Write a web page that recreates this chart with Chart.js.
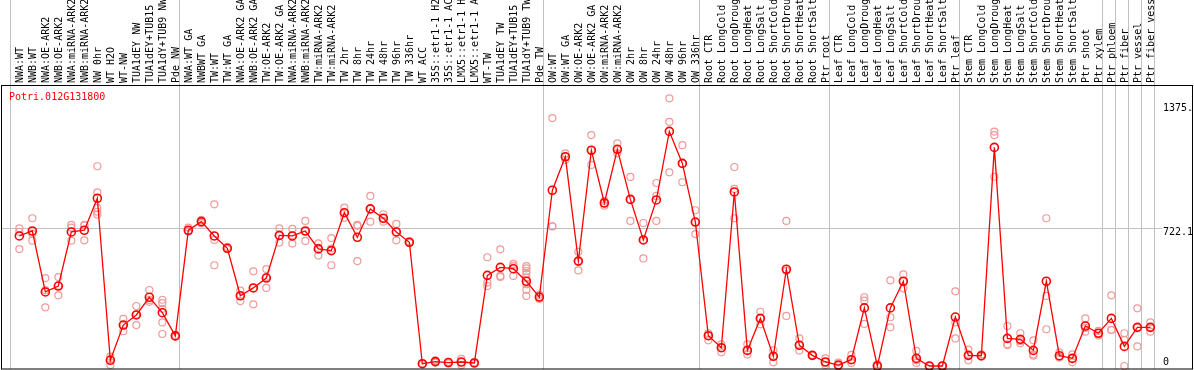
<!DOCTYPE html>
<html lang="en">

<head>
    <meta charset="UTF-8">
    <title>Potri.012G131800 expression</title>
    <script src="https://cdn.jsdelivr.net/npm/chart.js"></script>
    <style>
        body {
            margin: 0;
            background: #fff;
        }

        #chart-container {
            width: 1194px;
            height: 370px;
        }
    </style>
</head>

<body>
    <div id="chart-container">
        <canvas id="exprChart" width="1194" height="370"></canvas>
    </div>

    <script>
        const geneName = 'Potri.012G131800';

        const sampleLabels = [
            'NWA:WT', 'NWB:WT', 'NWA:OE-ARK2', 'NWB:OE-ARK2', 'NWA:miRNA-ARK2', 'NWB:miRNA-ARK2',
            'NW 0hr', 'WT H2O', 'WT-NW', 'TUA1dEY NW', 'TUA1dEY+TUB15', 'TUA1dY+TUB9 NW', 'Pde NW',
            'NWA:WT GA', 'NWBWT GA', 'TW:WT', 'TW:WT GA', 'NWA:OE-ARK2 GA', 'NWB:OE-ARK2 GA',
            'TW:OE-ARK2', 'TW:OE-ARK2 GA', 'NWA:miRNA-ARK2', 'NWB:miRNA-ARK2', 'TW:miRNA-ARK2',
            'TW:miRNA-ARK2', 'TW 2hr', 'TW 8hr', 'TW 24hr', 'TW 48hr', 'TW 96hr', 'TW 336hr',
            'WT ACC', '35S::etr1-1 H2', '35S::etr1-1 AC', 'LMX5::etr1-1 H', 'LMX5::etr1-1 A',
            'WT-TW', 'TUA1dEY TW', 'TUA1dEY+TUB15', 'TUA1dY+TUB9 TW', 'Pde TW',
            'OW:WT', 'OW:WT GA', 'OW:OE-ARK2', 'OW:OE-ARK2 GA', 'OW:miRNA-ARK2', 'OW:miRNA-ARK2',
            'OW 2hr', 'OW 8hr', 'OW 24hr', 'OW 48hr', 'OW 96hr', 'OW 336hr',
            'Root CTR', 'Root LongCold', 'Root LongDroug', 'Root LongHeat', 'Root LongSalt',
            'Root ShortCold', 'Root ShortDrou', 'Root ShortHeat', 'Root ShortSalt', 'Ptr root',
            'Leaf CTR', 'Leaf LongCold', 'Leaf LongDroug', 'Leaf LongHeat', 'Leaf LongSalt',
            'Leaf ShortCold', 'Leaf ShortDrou', 'Leaf ShortHeat', 'Leaf ShortSalt', 'Ptr leaf',
            'Stem CTR', 'Stem LongCold', 'Stem LongDroug', 'Stem LongHeat', 'Stem LongSalt',
            'Stem ShortCold', 'Stem ShortDrou', 'Stem ShortHeat', 'Stem ShortSalt', 'Ptr shoot',
            'Ptr xylem', 'Ptr phloem', 'Ptr fiber', 'Ptr vessel', 'Ptr fiber vess'
        ];

        // mean expression per sample (red line)
        const meanValues = [
            683, 709, 389, 420, 704, 713, 881, 30, 215, 268, 361, 280, 158,
            713, 758, 683, 618, 369, 410, 462, 686, 683, 709, 615, 606, 805, 676, 825, 776, 704, 650,
            12, 23, 18, 21, 16, 476, 518, 511, 445, 362,
            923, 1099, 551, 1133, 856, 1138, 875, 662, 872, 1232, 1064, 756,
            159, 96, 914, 82, 250, 51, 508, 109, 56, 21,
            5, 33, 305, 0, 305, 445, 40, 0, 0, 257,
            56, 54, 1148, 145, 140, 82, 445, 54, 40, 210, 172,
            250, 103, 203, 203
        ];

        // individual replicates per sample (pink circles)
        const replicateValues = [
            [723, 705, 614], [776, 695, 658], [462, 398, 308], [467, 422, 371], [741, 727, 658],
            [741, 738, 660], [1049, 912, 830, 810, 795], [49, 36, 5], [247, 215, 183], [315, 270, 215],
            [399, 347, 337], [348, 330, 300, 229, 168], [163, 155, 156],
            [727, 705, 708], [767, 750, 757], [849, 662, 529], [625, 615, 614], [396, 369, 341],
            [497, 410, 324], [509, 467, 410], [723, 686, 648], [720, 686, 643], [762, 709, 657],
            [644, 620, 580], [672, 617, 529], [832, 805, 778], [741, 736, 551], [893, 825, 758],
            [797, 776, 758], [746, 704, 660], [655, 648, 647],
            [12, 10, 14], [23, 30, 18], [18, 22, 14], [37, 21, 5], [16, 20, 12],
            [571, 438, 420], [613, 473, 468], [536, 525, 473],
            [525, 513, 499, 485, 464, 429, 401, 368], [373, 362, 352],
            [1302, 734, 733], [1117, 1099, 1082], [600, 551, 502], [1213, 1133, 1056], [867, 856, 842],
            [1169, 1138, 1117], [993, 875, 762], [751, 662, 565], [961, 893, 762], [1406, 1282, 1017],
            [1160, 1064, 965], [818, 756, 693],
            [172, 159, 135], [114, 96, 72], [1045, 930, 776], [114, 82, 61], [285, 250, 219],
            [82, 51, 19], [762, 500, 263], [145, 109, 81], [56, 58, 54], [40, 21, 5],
            [18, 5, 0], [58, 33, 16], [361, 343, 221], [9, 0, 0], [450, 256, 203],
            [481, 445, 408], [79, 30, 16], [0, 0, 0], [0, 2, 0], [392, 229, 145],
            [86, 56, 30], [61, 54, 48], [1231, 1213, 994], [210, 114, 110], [172, 130, 119],
            [135, 60, 54], [776, 368, 193], [70, 48, 44], [61, 40, 19], [250, 200, 180], [184, 172, 160],
            [371, 189, 190], [172, 137, 0], [303, 203, 103], [229, 203, 180]
        ];

        // sample index after which a group separator is drawn (-1 = before the first)
        const groupEnds = [-1, 12, 40, 52, 62, 72, 83, 84, 85, 86, 87];

        const yTickValues = [722.1, 1375];
        const yTickLabels = ['722.1', '1375.'];

        const monoFont = { family: "'DejaVu Sans Mono', monospace", size: 10 };
        const xMin = -1.41, xMax = 90.28;
        const yMin = -15.8, yMax = 1475.8;

        const meanPoints = meanValues.map((v, i) => ({ x: i, y: v }));
        const repPoints = [];
        replicateValues.forEach((reps, i) => reps.forEach(v => repPoints.push({ x: i, y: v })));

        // scales must not push the plot area in from the canvas edges
        function noPad(s) {
            s.paddingLeft = 0;
            s.paddingRight = 0;
            s.paddingTop = 0;
            s.paddingBottom = 0;
        }

        // frame round the plot + gene name in the corner
        const framePlugin = {
            id: 'frame',
            afterDraw(chart) {
                const { ctx, chartArea: a } = chart;
                ctx.save();
                ctx.strokeStyle = '#000';
                ctx.lineWidth = 1;
                ctx.strokeRect(a.left + 0.5, a.top + 0.5, a.right - a.left - 1, a.bottom - a.top - 0.5);
                ctx.fillStyle = '#ff0000';
                ctx.font = "10px 'DejaVu Sans Mono', monospace";
                ctx.textBaseline = 'middle';
                ctx.fillText(geneName, a.left + 8, a.top + 12);
                ctx.restore();
            }
        };

        const ctx = document.getElementById('exprChart').getContext('2d');
        const chart = new Chart(ctx, {
            data: {
                datasets: [
                    {
                        type: 'scatter',
                        label: 'replicates',
                        data: repPoints,
                        xAxisID: 'x',
                        yAxisID: 'y',
                        showLine: false,
                        pointStyle: 'circle',
                        pointRadius: 3.5,
                        pointBorderWidth: 1.2,
                        pointBorderColor: '#f09a9a',
                        pointBackgroundColor: 'rgba(0,0,0,0)',
                        clip: false,
                        order: 2
                    },
                    {
                        type: 'line',
                        label: 'mean',
                        data: meanPoints,
                        xAxisID: 'x',
                        yAxisID: 'y',
                        borderColor: '#ff0000',
                        borderWidth: 1.3,
                        tension: 0,
                        pointRadius: 4,
                        pointBorderWidth: 1.6,
                        pointBorderColor: '#ff0000',
                        pointBackgroundColor: 'rgba(0,0,0,0)',
                        clip: false,
                        order: 1
                    }
                ]
            },
            options: {
                responsive: false,
                animation: false,
                devicePixelRatio: 1,
                layout: { autoPadding: false, padding: { left: 1, right: 1, top: 0, bottom: 1 } },
                plugins: {
                    legend: { display: false },
                    tooltip: { enabled: false }
                },
                scales: {
                    // group separators, carried up through the label band
                    x: {
                        type: 'linear',
                        position: 'top',
                        weight: 0,
                        min: xMin,
                        max: xMax,
                        bounds: 'data',
                        afterBuildTicks: s => { s.ticks = groupEnds.map(g => ({ value: g + 0.34 })); },
                        afterFit: s => { s.height = 0; noPad(s); },
                        ticks: { display: false },
                        border: { display: false },
                        grid: { color: '#c0c0c0', lineWidth: 1, drawTicks: true, tickLength: 85 }
                    },
                    // sample names
                    xl: {
                        type: 'linear',
                        position: 'top',
                        weight: 1,
                        min: xMin,
                        max: xMax,
                        bounds: 'data',
                        afterBuildTicks: s => { s.ticks = sampleLabels.map((_, i) => ({ value: i })); },
                        afterFit: s => { s.height = 85; noPad(s); },
                        border: { display: false },
                        grid: { display: false, drawTicks: false },
                        ticks: {
                            autoSkip: false,
                            minRotation: 90,
                            maxRotation: 90,
                            padding: 2,
                            labelOffset: 13,
                            color: '#000',
                            font: monoFont,
                            callback: (v, i) => sampleLabels[i]
                        }
                    },
                    y: {
                        type: 'linear',
                        position: 'right',
                        min: yMin,
                        max: yMax,
                        bounds: 'data',
                        afterBuildTicks: s => { s.ticks = yTickValues.map(v => ({ value: v })); },
                        afterFit: s => { s.width = 0; noPad(s); },
                        border: { display: false },
                        grid: {
                            drawTicks: false,
                            color: c => (c.tick && c.tick.value === 722.1) ? '#c0c0c0' : 'rgba(0,0,0,0)'
                        },
                        ticks: {
                            mirror: true,
                            crossAlign: 'far',
                            padding: 0,
                            labelOffset: 4,
                            color: '#000',
                            font: monoFont,
                            showLabelBackdrop: true,
                            backdropColor: '#fff',
                            backdropPadding: 1,
                            callback: (v, i) => yTickLabels[i]
                        }
                    },
                    y0: {
                        type: 'linear',
                        position: 'right',
                        min: yMin,
                        max: yMax,
                        bounds: 'data',
                        afterBuildTicks: s => { s.ticks = [{ value: 0 }]; },
                        afterFit: s => { s.width = 0; noPad(s); },
                        border: { display: false },
                        grid: { display: false, drawTicks: false },
                        ticks: {
                            mirror: true,
                            crossAlign: 'far',
                            padding: -24,
                            labelOffset: -4,
                            color: '#000',
                            font: monoFont,
                            callback: () => '0'
                        }
                    }
                }
            },
            plugins: [framePlugin]
        });
    </script>
</body>

</html>
